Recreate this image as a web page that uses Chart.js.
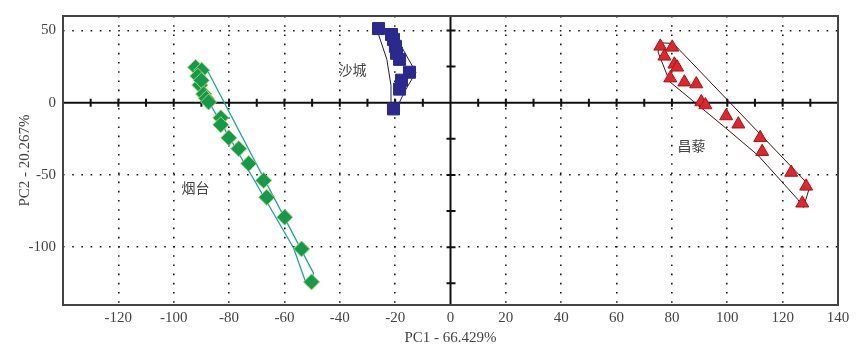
<!DOCTYPE html>
<html>
<head>
<meta charset="utf-8">
<script src="https://cdn.jsdelivr.net/npm/chart.js@4/dist/chart.umd.min.js"></script>
<style>
html,body{margin:0;padding:0;background:#fff;}
#wrap{width:867px;height:354px;position:relative;}
</style>
</head>
<body>
<div id="wrap"><canvas id="c" width="867" height="354"></canvas></div>
<script>
// ---- data (PC1, PC2) ----
const yantaiX = [-92.1,-89.9,-91.3,-90.6,-90.0,-89.2,-88.2,-87.4,-83.0,-83.0,-80.1,-76.5,-72.9,-67.5,-66.4,-59.9,-53.8,-50.2];
const yantaiY = [24.5,22.5,18.4,12.2,15.5,6.0,3.0,0.5,-10.5,-15.3,-24.3,-31.8,-42.1,-53.8,-65.5,-79.2,-101.2,-124.0];
const shachengX = [-26.0,-21.3,-20.6,-19.9,-19.5,-18.4,-14.8,-17.7,-18.4,-20.6];
const shachengY = [51.3,47.2,43.8,39.0,34.2,30.0,21.1,15.6,9.4,-4.3];
const changliX = [75.8,80.1,77.3,80.9,81.9,79.4,84.5,88.8,90.6,92.1,99.6,104.0,111.9,112.6,123.1,128.5,127.1];
const changliY = [39.0,38.3,32.1,26.6,24.5,17.0,14.2,12.9,0.5,-1.6,-9.2,-14.9,-24.3,-33.9,-48.3,-57.9,-69.6];
// enclosing outlines
const yantaiHullX = [-93.5,-88,-49.5,-50.5,-52,-56.7,-91,-93.5];
const yantaiHullY = [27,23,-118,-127,-126,-100.5,12.8,27];
const shachengHullX = [-27,-21,-12.5,-16.5,-20,-21.5,-21.5,-23,-27];
const shachengHullY = [53,50,21,8,-6,-4,12,30,53];
const changliHullX = [75.5,80.5,128.5,129.5,127.5,125.5,111.2,99.3,79.2,75,75.5];
const changliHullY = [41.5,41,-55,-60,-72.5,-67,-36.6,-17.3,14.5,35,41.5];
// axes
const xTickValues = [-140,-120,-100,-80,-60,-40,-20,0,20,40,60,80,100,120,140];
const yTickValues = [-100,-50,0,50];
const xMinorTicks = [-130,-120,-110,-100,-90,-80,-70,-60,-50,-40,-30,-20,-10,10,20,30,40,50,60,70,80,90,100,110,120,130];
const yMinorTicks = [-125,-100,-75,-50,-25,25,50];
const groupLabels = [
  {text:'沙城', x:-35.4, y:23.1},
  {text:'烟台', x:-92.1, y:-58.6},
  {text:'昌藜', x:87.1, y:-29.8}
];
const xTitle = 'PC1 - 66.429%';
const yTitle = 'PC2 - 20.267%';

const pts = (xs, ys) => xs.map((x,i)=>({x:x, y:ys[i]}));

const framePlugin = {
  id:'frame',
  beforeDatasetsDraw(chart){
    const ctx = chart.ctx, a = chart.chartArea, sx = chart.scales.x, sy = chart.scales.y;
    const x0 = sx.getPixelForValue(0), y0 = sy.getPixelForValue(0);
    ctx.save();
    ctx.strokeStyle = '#111';
    ctx.lineWidth = 2;
    ctx.beginPath();
    ctx.moveTo(a.left, y0); ctx.lineTo(a.right, y0);
    ctx.moveTo(x0, a.top); ctx.lineTo(x0, a.bottom);
    ctx.stroke();
    ctx.beginPath();
    xMinorTicks.forEach(v=>{const p = sx.getPixelForValue(v); ctx.moveTo(p, y0-4); ctx.lineTo(p, y0+4);});
    yMinorTicks.forEach(v=>{const p = sy.getPixelForValue(v); ctx.moveTo(x0-4, p); ctx.lineTo(x0+5, p);});
    ctx.stroke();
    ctx.restore();
  },
  afterDraw(chart){
    const ctx = chart.ctx, a = chart.chartArea, sx = chart.scales.x, sy = chart.scales.y;
    ctx.save();
    ctx.strokeStyle = '#444';
    ctx.lineWidth = 2;
    ctx.strokeRect(a.left, a.top, a.right-a.left, a.bottom-a.top);
    ctx.fillStyle = '#444';
    ctx.font = '14px "Noto Sans CJK SC"';
    ctx.textAlign = 'center';
    ctx.textBaseline = 'middle';
    groupLabels.forEach(l=>ctx.fillText(l.text, sx.getPixelForValue(l.x), sy.getPixelForValue(l.y)));
    ctx.restore();
  }
};

const gridColor = (ctx) => {
  const v = ctx.tick ? ctx.tick.value : null;
  return (v === 0 || v === 140 || v === -140) ? 'rgba(0,0,0,0)' : '#1a1a1a';
};

new Chart(document.getElementById('c'), {
  type:'scatter',
  data:{
    datasets:[
      {label:'烟台', data:pts(yantaiX,yantaiY), pointStyle:'rectRot', pointRadius:8, backgroundColor:'#139a4a', borderColor:'#a9cf6a', borderWidth:1, order:1},
      {label:'沙城', data:pts(shachengX,shachengY), pointStyle:'rect', pointRadius:8.5, backgroundColor:'#2a2a8e', borderColor:'#2a2a8e', borderWidth:1, order:1},
      {label:'昌藜', data:pts(changliX,changliY), pointStyle:'triangle', pointRadius:7.5, backgroundColor:'#e3242b', borderColor:'#a01818', borderWidth:1, order:1},
      {label:'h1', data:pts(yantaiHullX,yantaiHullY), showLine:true, pointRadius:0, borderColor:'#1fa3a0', borderWidth:1.3, fill:false, order:2},
      {label:'h2', data:pts(shachengHullX,shachengHullY), showLine:true, pointRadius:0, borderColor:'#1c1c50', borderWidth:1, fill:false, order:2},
      {label:'h3', data:pts(changliHullX,changliHullY), showLine:true, pointRadius:0, borderColor:'#3a1616', borderWidth:1, fill:false, order:2}
    ]
  },
  options:{
    responsive:false,
    animation:false,
    events:[],
    layout:{padding:{left:0, right:29, top:13, bottom:0}},
    plugins:{legend:{display:false}, tooltip:{enabled:false}},
    scales:{
      x:{
        type:'linear', min:-140, max:140,
        afterBuildTicks(s){ s.ticks = xTickValues.map(v=>({value:v})); },
        afterFit(s){ s.height = 49; },
        ticks:{padding:4, color:'#444', font:{family:'"Liberation Serif"', size:15}, maxRotation:0, autoSkip:false,
          callback:(v)=> v === -140 ? '' : String(v)},
        grid:{color:gridColor, lineWidth:1.6, drawTicks:false},
        border:{display:false, dash:[1.6,7.6]},
        title:{display:true, text:xTitle, color:'#444', font:{family:'"Liberation Serif"', size:15}, padding:{top:0, bottom:7}}
      },
      y:{
        type:'linear', min:-140, max:60,
        afterBuildTicks(s){ s.ticks = yTickValues.map(v=>({value:v})); },
        afterFit(s){ s.width = 63; },
        ticks:{padding:7, color:'#444', font:{family:'"Liberation Serif"', size:15}, autoSkip:false},
        grid:{color:gridColor, lineWidth:1.6, drawTicks:false},
        border:{display:false, dash:[1.6,7.6]},
        title:{display:true, text:yTitle, color:'#444', font:{family:'"Liberation Serif"', size:15}, padding:{top:16, bottom:0}}
      }
    }
  },
  plugins:[framePlugin]
});
</script>
</body>
</html>
